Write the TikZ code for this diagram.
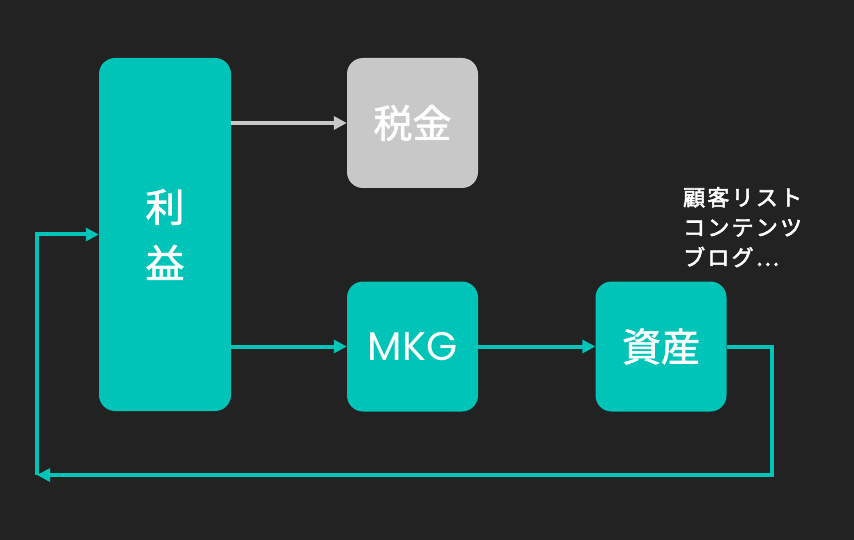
\documentclass[tikz,border=0pt]{standalone}
\usepackage{fontspec}
\setmainfont{Poppins}
\newfontfamily\jp[FakeBold=1.6]{Noto Sans CJK JP}
\newfontfamily\jpmemo[LetterSpace=10,FakeBold=2.6]{Noto Sans CJK JP}
\usepackage{tikz}
\usetikzlibrary{arrows.meta,positioning}
\definecolor{bgdark}{HTML}{222222}
\definecolor{boxteal}{HTML}{00C4B8}
\definecolor{boxgray}{HTML}{C8C8C8}

\begin{document}
\begin{tikzpicture}[x=1pt,y=-1pt,
  box/.style={fill=boxteal, rounded corners=16pt, text=white, inner sep=0pt,
    minimum width=131pt, minimum height=130pt, align=center,
    font=\jp\fontsize{39}{56}\selectfont},
  flow/.style={draw=boxteal, line width=4pt, -{Triangle[length=13pt,width=13pt]}},
  memo/.style={text=white, align=left, inner sep=0pt,
    font=\jpmemo\fontsize{22}{30}\selectfont}
  ]

  % Background
  \fill[bgdark] (0,0) rectangle (854,540);
  \useasboundingbox (0,0) rectangle (854,540);

  % Nodes
  \node[box, minimum height=353pt, minimum width=132pt] (rieki) at (165,234.5) {利\\益};
  \node[box, fill=boxgray] (zeikin) at (412.5,123) {税金};
  \node[box, font=\fontsize{40}{44}\selectfont] (mkg) at (412.5,346.5) {MKG};
  \node[box] (shisan) at (661,346.5) {資産};
  \node[memo, anchor=north west] (memo) at (683,187) {顧客リスト\\コンテンツ\\ブログ…};

  % Loop corners
  \coordinate (loopR) at (772,475);
  \coordinate (loopL) at (37,475);

  % Connectors
  \draw[flow, draw=boxgray] (rieki.east |- zeikin.west) -- (zeikin.west);
  \draw[flow] (rieki.east |- mkg.west) -- (mkg.west);
  \draw[flow] (mkg) -- (shisan);
  \draw[flow] (shisan.east) -| (loopR) -- (loopL);
  \draw[flow] (loopL) |- (rieki.west);

\end{tikzpicture}
\end{document}
